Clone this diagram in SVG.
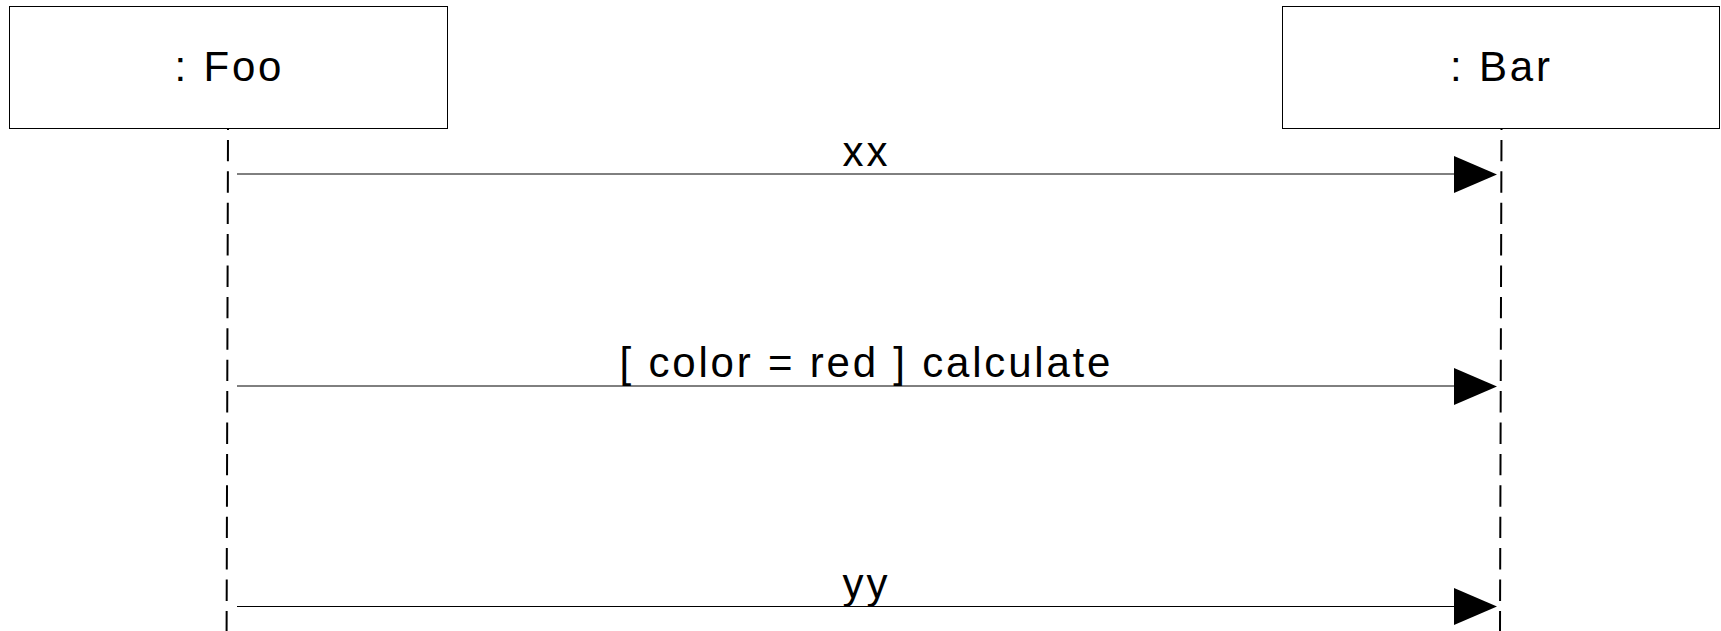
<svg xmlns="http://www.w3.org/2000/svg" width="1721" height="631" viewBox="0 0 1721 631">
<style>
.box{fill:#fff;stroke:#000;stroke-width:1}
.life{stroke:#000;stroke-width:2;stroke-dasharray:21.4 10;stroke-dashoffset:19.5;fill:none}
.msg{stroke:#000;stroke-width:1;fill:none}
.head{fill:#000;stroke:none}
text{font-family:"Liberation Sans",Arial,sans-serif;font-size:42px;letter-spacing:2.8px;text-anchor:middle;fill:#000}
</style>
<rect width="1721" height="631" fill="#fff"/>
<g id="lifelines">
<line class="life" x1="228" y1="128" x2="226.6" y2="631"/>
<line class="life" x1="1501.5" y1="128" x2="1500" y2="631"/>
</g>
<g id="foo">
<rect class="box" x="9.5" y="6.5" width="438" height="122"/>
<text x="229.4" y="80.7">: Foo</text>
</g>
<g id="bar">
<rect class="box" x="1282.5" y="6.5" width="437" height="122"/>
<text x="1501.4" y="80.7">: Bar</text>
</g>
<g id="connectors">
<line class="msg" x1="237" y1="174" x2="1455" y2="174"/>
<polygon class="head" points="1454,156 1497,174.5 1454,193"/>
<text x="866.4" y="165.7">xx</text>
<line class="msg" x1="237" y1="386" x2="1455" y2="386"/>
<polygon class="head" points="1454,368 1497,386.5 1454,405"/>
<text x="866.4" y="377">[ color = red ] calculate</text>
<line class="msg" x1="237" y1="606.5" x2="1455" y2="606.5"/>
<polygon class="head" points="1454,588 1497,606.5 1454,625"/>
<text x="866.4" y="597.7">yy</text>
</g>
</svg>
